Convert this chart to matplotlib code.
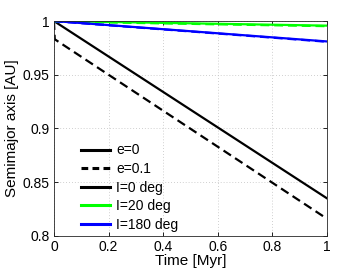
import matplotlib
matplotlib.use("Agg")
import matplotlib.pyplot as plt
from matplotlib.lines import Line2D

plt.rcParams['font.family'] = ['Liberation Sans', 'DejaVu Sans']

# Time [Myr]
t_circ = [0.0, 1.0]
t_ecc = [0.0, 0.003, 1.0]

# Semimajor axis [AU]
a_I0_e0 = [1.0, 0.835]
a_I0_e01 = [1.0, 0.983, 0.816]
a_I20_e0 = [1.0, 0.9957]
a_I20_e01 = [1.0, 0.9995, 0.9952]
a_I180_e0 = [1.0, 0.981]
a_I180_e01 = [1.0, 0.9998, 0.9807]

xticks = [0, 0.2, 0.4, 0.6, 0.8, 1]
yticks = [0.8, 0.85, 0.9, 0.95, 1]
xlabels = ['0', '0.2', '0.4', '0.6', '0.8', '1']
ylabels = ['0.8', '0.85', '0.9', '0.95', '1']

fig = plt.figure(figsize=(3.62, 2.73), dpi=100)
ax = fig.add_axes([0.149, 0.136, 0.754, 0.787])

lw = 1.6
dash = (0, (4.0, 2.2))
ax.plot(t_circ, a_I0_e0, color='black', lw=lw)
ax.plot(t_ecc, a_I0_e01, color='black', lw=lw, ls=dash)
ax.plot(t_circ, a_I20_e0, color='#00ff00', lw=lw)
ax.plot(t_ecc, a_I20_e01, color='#00ff00', lw=lw, ls=dash)
ax.plot(t_circ, a_I180_e0, color='#0000ff', lw=lw)
ax.plot(t_ecc, a_I180_e01, color='#0000ff', lw=lw, ls=dash)

ax.set_xlim(0, 1)
ax.set_ylim(0.8, 1.0)
ax.set_xticks(xticks)
ax.set_xticklabels(xlabels)
ax.set_yticks(yticks)
ax.set_yticklabels(ylabels)
ax.tick_params(direction='in', labelsize=10, length=3, width=0.6, top=True, right=True, pad=3)
ax.grid(True, ls=(0, (1, 2.5)), color='#c0c0c0', lw=0.6)
for s in ax.spines.values():
    s.set_linewidth(0.6)
    s.set_color('#262626')

ax.set_xlabel('Time [Myr]', fontsize=11, labelpad=0)
ax.set_ylabel('Semimajor axis [AU]', fontsize=11, labelpad=3)

handles = [
    Line2D([], [], color='black', lw=2.2),
    Line2D([], [], color='black', lw=2.2, ls=(0, (2.2, 1.4))),
    Line2D([], [], color='black', lw=2.2),
    Line2D([], [], color='#00ff00', lw=2.2),
    Line2D([], [], color='#0000ff', lw=2.2),
]
labels = ['e=0', 'e=0.1', 'I=0 deg', 'I=20 deg', 'I=180 deg']
ax.legend(handles, labels, loc='lower left', bbox_to_anchor=(0.085, 0.0),
          frameon=False, fontsize=10, handlelength=2.1, handletextpad=0.4,
          labelspacing=0.33, borderaxespad=0.1, borderpad=0.2)

fig.savefig('out.png', dpi=100)
